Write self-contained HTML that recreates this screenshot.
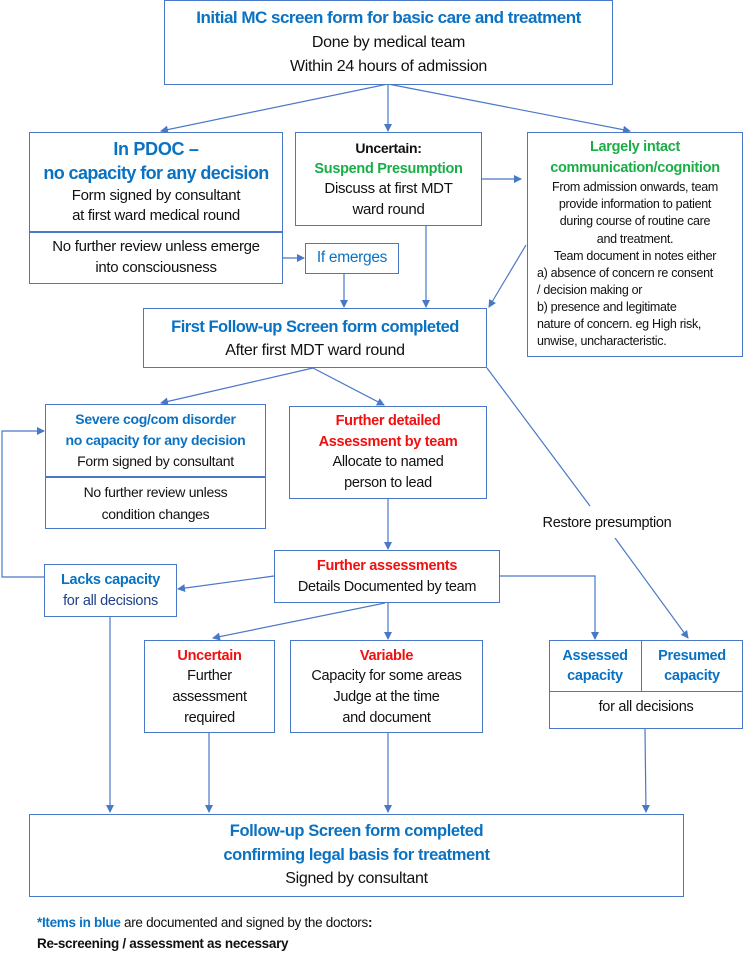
<!DOCTYPE html>
<html><head><meta charset="utf-8"><style>
body{margin:0;width:743px;height:952px;background:#fff;position:relative;font-family:"Liberation Sans",sans-serif;overflow:hidden;color:#111}
.b{position:absolute;border:1.5px solid #4a78c8;box-sizing:border-box;background:#fff}
.t{position:absolute;text-align:center;white-space:nowrap;line-height:20px;height:20px;font-size:15px;letter-spacing:-0.3px}
.bl{color:#0a72c2;font-weight:bold}.gr{color:#1aae46;font-weight:bold}.rd{color:#f01010;font-weight:bold}
.sm{font-size:12.5px;letter-spacing:-0.3px}
</style></head><body>
<svg width="743" height="952" style="position:absolute;left:0;top:0">
<defs><marker id="a" markerWidth="8" markerHeight="8" refX="7" refY="4" orient="auto" markerUnits="userSpaceOnUse"><path d="M0,0 L8,4 L0,8 z" fill="#4a78c8"/></marker></defs>
<g stroke="#4a78c8" stroke-width="1.2" fill="none" marker-end="url(#a)">
<line x1="388" y1="84" x2="161" y2="131"/>
<line x1="388" y1="84" x2="388" y2="131"/>
<line x1="388" y1="84" x2="630" y2="131"/>
<line x1="482" y1="179" x2="521" y2="179"/>
<line x1="283" y1="258" x2="304" y2="258"/>
<line x1="344" y1="274" x2="344" y2="307"/>
<line x1="426" y1="226" x2="426" y2="307"/>
<line x1="526" y1="245" x2="489" y2="307"/>
<line x1="313" y1="368" x2="161" y2="403"/>
<line x1="313" y1="368" x2="384" y2="405"/>
<line x1="388" y1="499" x2="388" y2="549"/>
<line x1="274" y1="576" x2="178" y2="589"/>
<line x1="385" y1="603" x2="213" y2="638"/>
<line x1="388" y1="603" x2="388" y2="639"/>
<polyline points="500,576 595,576 595,639"/>
<line x1="615" y1="538" x2="688" y2="638"/>
<polyline points="44,577 2,577 2,431 44,431"/>
<line x1="110" y1="617" x2="110" y2="812"/>
<line x1="209" y1="733" x2="209" y2="812"/>
<line x1="388" y1="733" x2="388" y2="812"/>
<line x1="645" y1="729" x2="646" y2="812"/>
</g>
<line x1="487" y1="368" x2="590" y2="506" stroke="#4a78c8" stroke-width="1.2"/>
</svg>

<div class="b" style="left:164px;top:0;width:449px;height:85px"></div>
<div class="t bl" style="left:164px;width:449px;top:8px;font-size:17px;letter-spacing:-0.5px">Initial MC screen form for basic care and treatment</div>
<div class="t" style="left:164px;width:449px;top:33px;font-size:16px">Done by medical team</div>
<div class="t" style="left:164px;width:449px;top:57px;font-size:16px">Within 24 hours of admission</div>

<div class="b" style="left:29px;top:132px;width:254px;height:152px;border-width:1.5px"></div>
<div style="position:absolute;left:29px;top:231px;width:254px;border-top:2px solid #4a78c8"></div>
<div class="t bl" style="left:29px;width:254px;top:139px;font-size:18px">In PDOC –</div>
<div class="t bl" style="left:29px;width:254px;top:163px;font-size:18px;letter-spacing:-0.6px">no capacity for any decision</div>
<div class="t" style="left:29px;width:254px;top:186px">Form signed by consultant</div>
<div class="t" style="left:29px;width:254px;top:206px">at first ward medical round</div>
<div class="t" style="left:29px;width:254px;top:237px">No further review unless emerge</div>
<div class="t" style="left:29px;width:254px;top:258px">into consciousness</div>

<div class="b" style="left:295px;top:132px;width:187px;height:94px"></div>
<div class="t" style="left:295px;width:187px;top:138px;font-weight:bold;font-size:14px">Uncertain:</div>
<div class="t gr" style="left:295px;width:187px;top:159px;font-size:14.5px">Suspend Presumption</div>
<div class="t" style="left:295px;width:187px;top:179px">Discuss at first MDT</div>
<div class="t" style="left:295px;width:187px;top:200px">ward round</div>

<div class="b" style="left:527px;top:132px;width:216px;height:225px"></div>
<div class="t gr" style="left:527px;width:216px;top:137px;font-size:14.5px">Largely intact</div>
<div class="t gr" style="left:527px;width:216px;top:158px;font-size:14.5px">communication/cognition</div>
<div class="t sm" style="left:527px;width:216px;top:177px">From admission onwards, team</div>
<div class="t sm" style="left:527px;width:216px;top:194px">provide information to patient</div>
<div class="t sm" style="left:527px;width:216px;top:211px">during course of routine care</div>
<div class="t sm" style="left:527px;width:216px;top:229px">and treatment.</div>
<div class="t sm" style="left:527px;width:216px;top:246px">Team document in notes either</div>
<div class="t sm" style="left:537px;top:263px;text-align:left">a) absence of concern re consent</div>
<div class="t sm" style="left:537px;top:280px;text-align:left">/ decision making or</div>
<div class="t sm" style="left:537px;top:297px;text-align:left">b) presence and legitimate</div>
<div class="t sm" style="left:537px;top:314px;text-align:left">nature of concern. eg High risk,</div>
<div class="t sm" style="left:537px;top:331px;text-align:left">unwise, uncharacteristic.</div>

<div class="b" style="left:305px;top:243px;width:94px;height:31px"></div>
<div class="t" style="left:305px;width:94px;top:248px;color:#0a72c2;font-size:15.5px">If emerges</div>

<div class="b" style="left:143px;top:308px;width:344px;height:60px"></div>
<div class="t bl" style="left:143px;width:344px;top:317px;font-size:16.5px;letter-spacing:-0.5px">First Follow-up Screen form completed</div>
<div class="t" style="left:143px;width:344px;top:341px;font-size:16px">After first MDT ward round</div>

<div class="b" style="left:45px;top:404px;width:221px;height:125px"></div>
<div style="position:absolute;left:45px;top:476px;width:221px;border-top:2px solid #4a78c8"></div>
<div class="t bl" style="left:45px;width:221px;top:409px;font-size:14px">Severe cog/com disorder</div>
<div class="t bl" style="left:45px;width:221px;top:430px;font-size:14px">no capacity for any decision</div>
<div class="t" style="left:45px;width:221px;top:451px;font-size:14px">Form signed by consultant</div>
<div class="t" style="left:45px;width:221px;top:482px;font-size:14px">No further review unless</div>
<div class="t" style="left:45px;width:221px;top:504px;font-size:14px">condition changes</div>

<div class="b" style="left:289px;top:406px;width:198px;height:93px"></div>
<div class="t rd" style="left:289px;width:198px;top:411px;font-size:14.5px">Further detailed</div>
<div class="t rd" style="left:289px;width:198px;top:432px;font-size:14.5px">Assessment by team</div>
<div class="t" style="left:289px;width:198px;top:452px;font-size:14.5px">Allocate to named</div>
<div class="t" style="left:289px;width:198px;top:473px;font-size:14.5px">person to lead</div>

<div class="t" style="left:527px;width:160px;top:513px;font-size:14.5px">Restore presumption</div>

<div class="b" style="left:274px;top:550px;width:226px;height:53px"></div>
<div class="t rd" style="left:274px;width:226px;top:556px;font-size:14.5px">Further assessments</div>
<div class="t" style="left:274px;width:226px;top:577px;font-size:14.5px">Details Documented by team</div>

<div class="b" style="left:44px;top:564px;width:133px;height:53px"></div>
<div class="t" style="left:44px;width:133px;top:570px;font-size:14.5px;color:#0a72c2;font-weight:bold">Lacks capacity</div>
<div class="t" style="left:44px;width:133px;top:591px;font-size:14.5px;color:#1f3f8a">for all decisions</div>

<div class="b" style="left:144px;top:640px;width:131px;height:93px"></div>
<div class="t rd" style="left:144px;width:131px;top:646px;font-size:14.5px">Uncertain</div>
<div class="t" style="left:144px;width:131px;top:666px;font-size:14.5px">Further</div>
<div class="t" style="left:144px;width:131px;top:687px;font-size:14.5px">assessment</div>
<div class="t" style="left:144px;width:131px;top:708px;font-size:14.5px">required</div>

<div class="b" style="left:290px;top:640px;width:193px;height:93px"></div>
<div class="t rd" style="left:290px;width:193px;top:646px;font-size:14.5px">Variable</div>
<div class="t" style="left:290px;width:193px;top:666px;font-size:14.5px">Capacity for some areas</div>
<div class="t" style="left:290px;width:193px;top:687px;font-size:14.5px">Judge at the time</div>
<div class="t" style="left:290px;width:193px;top:708px;font-size:14.5px">and document</div>

<div class="b" style="left:549px;top:640px;width:194px;height:89px"></div>
<div style="position:absolute;left:641px;top:640px;height:52px;border-left:1.5px solid #4a78c8"></div>
<div style="position:absolute;left:549px;top:691px;width:194px;border-top:1.5px solid #4a78c8"></div>
<div class="t bl" style="left:549px;width:92px;top:646px;font-size:14.5px">Assessed</div>
<div class="t bl" style="left:549px;width:92px;top:666px;font-size:14.5px">capacity</div>
<div class="t bl" style="left:641px;width:102px;top:646px;font-size:14.5px">Presumed</div>
<div class="t bl" style="left:641px;width:102px;top:666px;font-size:14.5px">capacity</div>
<div class="t" style="left:549px;width:194px;top:697px;font-size:14.5px">for all decisions</div>

<div class="b" style="left:29px;top:814px;width:655px;height:83px"></div>
<div class="t bl" style="left:29px;width:655px;top:821px;font-size:16.5px;letter-spacing:-0.4px">Follow-up Screen form completed</div>
<div class="t bl" style="left:29px;width:655px;top:845px;font-size:16.5px;letter-spacing:-0.4px">confirming legal basis for treatment</div>
<div class="t" style="left:29px;width:655px;top:869px;font-size:16px">Signed by consultant</div>

<div class="t" style="left:37px;top:913px;text-align:left;font-size:13.5px"><span class="bl">*Items in blue</span> are documented and signed by the doctors<b>:</b></div>
<div class="t" style="left:37px;top:934px;text-align:left;font-size:13.5px;font-weight:bold">Re-screening / assessment as necessary</div>
</body></html>
